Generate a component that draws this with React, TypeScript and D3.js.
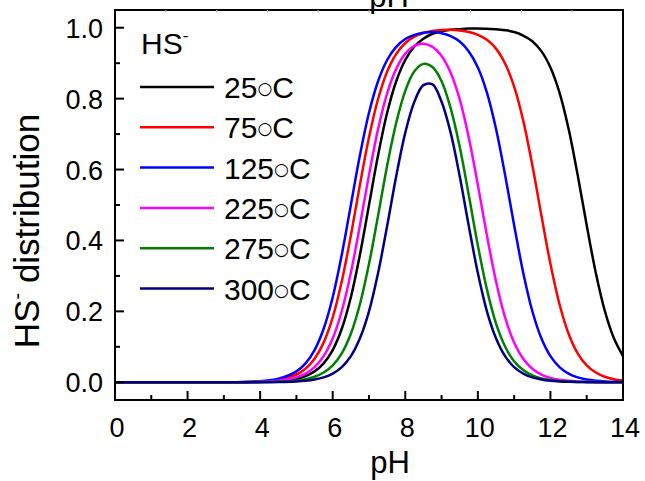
import React from "react";
import * as d3 from "d3";

const pH = [0, 1, 2, 3, 4, 4.5, 5, 5.25, 5.5, 5.75, 6, 6.25, 6.5, 6.75, 7, 7.25, 7.5, 7.75, 8, 8.25, 8.5, 8.75, 9, 9.25, 9.5, 9.75, 10, 10.25, 10.5, 10.75, 11, 11.25, 11.5, 11.75, 12, 12.25, 12.5, 12.75, 13, 13.25, 13.5, 13.75, 14];

const t25 = [0, 0, 0, 0, 0.001, 0.0032, 0.0099, 0.0175, 0.0307, 0.0533, 0.0909, 0.151, 0.24, 0.36, 0.5, 0.64, 0.76, 0.849, 0.909, 0.947, 0.969, 0.983, 0.99, 0.994, 0.996, 0.9975, 0.998, 0.997, 0.996, 0.993, 0.988, 0.978, 0.962, 0.934, 0.888, 0.817, 0.715, 0.585, 0.443, 0.309, 0.201, 0.124, 0.074];
const t75 = [0, 0, 0, 0, 0.0022, 0.007, 0.0219, 0.0383, 0.0661, 0.1118, 0.183, 0.285, 0.414, 0.557, 0.691, 0.799, 0.876, 0.926, 0.957, 0.975, 0.985, 0.991, 0.9936, 0.994, 0.992, 0.988, 0.98, 0.966, 0.941, 0.899, 0.834, 0.738, 0.613, 0.471, 0.334, 0.22, 0.137, 0.0818, 0.0477, 0.0274, 0.0156, 0.0088, 0.005];
const t125 = [0, 0, 0, 0, 0.0032, 0.0099, 0.0306, 0.0532, 0.0909, 0.151, 0.24, 0.36, 0.5, 0.64, 0.76, 0.849, 0.909, 0.946, 0.968, 0.98, 0.986, 0.9876, 0.9846, 0.9765, 0.961, 0.933, 0.888, 0.817, 0.715, 0.585, 0.443, 0.309, 0.201, 0.124, 0.0736, 0.0428, 0.0245, 0.0139, 0.0079, 0.0045, 0.0025, 0.0014, 0.0008];
const t225 = [0, 0, 0, 0, 0.0014, 0.0044, 0.0139, 0.0245, 0.0428, 0.0736, 0.124, 0.201, 0.309, 0.443, 0.585, 0.714, 0.815, 0.884, 0.927, 0.949, 0.955, 0.946, 0.92, 0.873, 0.798, 0.69, 0.557, 0.414, 0.285, 0.183, 0.112, 0.0661, 0.0383, 0.0219, 0.0124, 0.007, 0.004, 0.0022, 0.0013, 0.0007, 0.0004, 0.0002, 0.0001];
const t275 = [0, 0, 0, 0, 0.0005, 0.0016, 0.005, 0.0088, 0.0156, 0.0274, 0.0477, 0.0818, 0.137, 0.22, 0.334, 0.47, 0.611, 0.732, 0.822, 0.877, 0.898, 0.889, 0.849, 0.773, 0.664, 0.528, 0.386, 0.262, 0.166, 0.101, 0.0593, 0.0343, 0.0196, 0.0111, 0.0063, 0.0035, 0.002, 0.0011, 0.0006, 0.0004, 0.0002, 0.0001, 0.0001];
const t300 = [0, 0, 0, 0, 0.0003, 0.0008, 0.0025, 0.0044, 0.0079, 0.0139, 0.0245, 0.0427, 0.0736, 0.124, 0.2, 0.308, 0.441, 0.581, 0.704, 0.791, 0.838, 0.84, 0.791, 0.704, 0.581, 0.441, 0.308, 0.2, 0.124, 0.0736, 0.0427, 0.0245, 0.0139, 0.0079, 0.0044, 0.0025, 0.0014, 0.0008, 0.0004, 0.0003, 0.0001, 0.0001, 0];

const seriesTemps = ["25", "75", "125", "225", "275", "300"];
const seriesValues = [t25, t75, t125, t225, t275, t300];
const seriesColors = ["#000000", "#ff0000", "#0000ff", "#ff00ff", "#008000", "#000080"];

const xTicks = [0, 2, 4, 6, 8, 10, 12, 14];
const yTicks = [0, 0.2, 0.4, 0.6, 0.8, 1.0];

export default function App() {
  const L = 115, R = 623, T = 10, B = 400;
  const x = d3.scaleLinear().domain([0, 14]).range([L, R]);
  const y = d3.scaleLinear().domain([-0.05, 1.05]).range([B, T]);
  const line = d3.line<[number, number]>()
    .x((d) => x(d[0]))
    .y((d) => y(Math.max(0, d[1])))
    .curve(d3.curveCatmullRom.alpha(0.5));
  const font = "'Liberation Sans', Arial, sans-serif";
  const minorX = d3.range(1, 14, 2);
  const minorY = d3.range(0.1, 1.0, 0.2);
  const topTicks = d3.range(1, 10).map((i) => L + ((R - L) * i) / 10);

  return (
    <div style={{ position: "absolute", left: 0, top: 0 }}>
      <svg width={645} height={481} style={{ display: "block", background: "#fff" }} fontFamily={font}>
        <defs>
          <clipPath id="plotclip">
            <rect x={L} y={T} width={R - L} height={B - T} />
          </clipPath>
        </defs>
        {/* top title (cut off) */}
        <text x={389} y={7} fontSize={31} textAnchor="middle">pH</text>
        {/* curves */}
        <g clipPath="url(#plotclip)">
          {seriesValues.map((vals, i) => (
            <path
              key={i}
              d={line(pH.map((p, j) => [p, vals[j]] as [number, number])) || ""}
              fill="none"
              stroke={seriesColors[i]}
              strokeWidth={2.5}
            />
          ))}
        </g>
        {/* frame */}
        <rect x={L} y={T} width={R - L} height={B - T} fill="none" stroke="#000" strokeWidth={2} />
        {/* top faint ticks */}
        {topTicks.map((tx, i) => (
          <line key={"tt" + i} x1={tx} x2={tx} y1={T} y2={T + 3} stroke="#bbb" strokeWidth={1} />
        ))}
        {/* x ticks */}
        {xTicks.map((v) => (
          <g key={"x" + v}>
            <line x1={x(v)} x2={x(v)} y1={B} y2={B - 9} stroke="#000" strokeWidth={2} />
            <text x={x(v) + 2} y={437} fontSize={27} textAnchor="middle">{v}</text>
          </g>
        ))}
        {minorX.map((v) => (
          <line key={"xm" + v} x1={x(v)} x2={x(v)} y1={B} y2={B - 5} stroke="#000" strokeWidth={2} />
        ))}
        {/* y ticks */}
        {yTicks.map((v) => (
          <g key={"y" + v}>
            <line x1={L} x2={L + 9} y1={y(v)} y2={y(v)} stroke="#000" strokeWidth={2} />
            <text x={103} y={y(v) + 10} fontSize={27} textAnchor="end">{v.toFixed(1)}</text>
          </g>
        ))}
        {minorY.map((v, i) => (
          <line key={"ym" + i} x1={L} x2={L + 5} y1={y(v)} y2={y(v)} stroke="#000" strokeWidth={2} />
        ))}
        {/* axis titles */}
        <text x={390} y={473} fontSize={31} textAnchor="middle">pH</text>
        <text transform="translate(39,231) rotate(-90)" fontSize={35} textAnchor="middle">
          HS<tspan fontSize={20} dy={-15}>-</tspan><tspan dy={15}> distribution</tspan>
        </text>
        {/* legend */}
        <text x={141} y={54} fontSize={30}>
          HS<tspan fontSize={17} dy={-13}>-</tspan>
        </text>
        {seriesTemps.map((tmp, i) => {
          const ly = 87 + i * 40.3;
          return (
            <g key={"lg" + i}>
              <line x1={140} x2={214} y1={ly} y2={ly} stroke={seriesColors[i]} strokeWidth={2.5} />
              <text x={224} y={ly + 11} fontSize={30}>
                {tmp}
                <tspan fontFamily="'DejaVu Sans', sans-serif" fontSize={17} dy={-4}>{"\u25CB"}</tspan>
                <tspan dy={4}>C</tspan>
              </text>
            </g>
          );
        })}
      </svg>
    </div>
  );
}
